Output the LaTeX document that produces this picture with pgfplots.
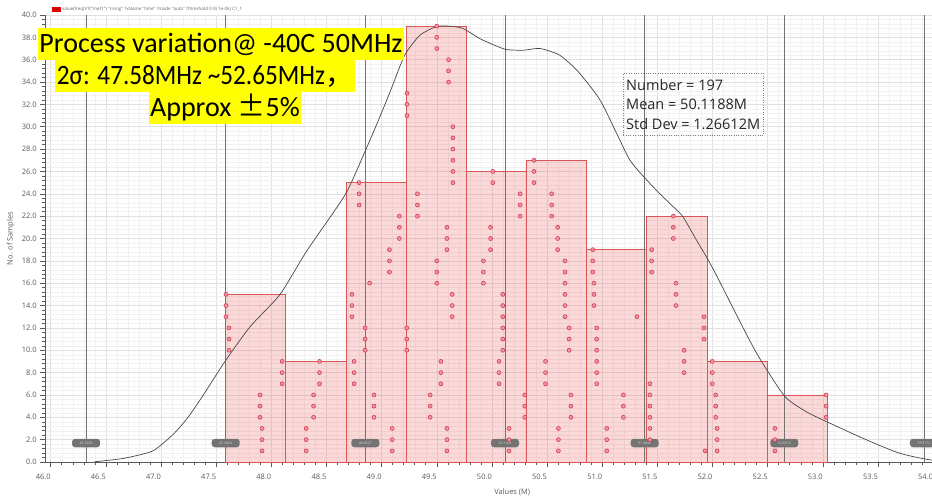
\documentclass[border=0pt]{standalone}
\usepackage{pgfplots}
\pgfplotsset{compat=1.18}
\usepackage{fontspec}
\setmainfont{Carlito}
\newfontfamily\cjk{Noto Sans CJK SC}
\newfontfamily\osans{Open Sans}
\definecolor{barfill}{RGB}{240,80,80}
\definecolor{baredge}{RGB}{218,85,85}
\definecolor{dotfill}{RGB}{240,150,160}
\definecolor{dotedge}{RGB}{214,60,80}
\definecolor{ticktext}{RGB}{90,90,90}
\definecolor{hl}{RGB}{255,255,0}
\begin{document}
\begin{tikzpicture}[x=1pt,y=1pt]
\useasboundingbox (0,0) rectangle (932,498);
\begin{axis}[
  at={(45.2pt,36pt)}, anchor=south west,
  scale only axis, width=887.9pt, height=447pt,
  xmin=45.95, xmax=54.0, ymin=0, ymax=40,
  axis x line*=bottom, axis y line*=left,
  axis line style={gray!70!black, line width=0.6pt},
  xtick distance=0.5, ytick distance=2,
  minor x tick num=4, minor y tick num=4,
  tick align=outside,
  major tick length=5pt, minor tick length=3pt,
  tick style={gray!70!black, line width=0.5pt},
  grid=both,
  major grid style={gray!24, line width=0.5pt},
  minor grid style={gray!11, line width=0.4pt},
  scaled ticks=false,
  tick label style={font=\osans\fontsize{7.5}{8}\selectfont, text=ticktext,
    /pgf/number format/fixed, /pgf/number format/fixed zerofill,
    /pgf/number format/precision=1, /pgf/number format/assume math mode=true},
  xticklabel style={xshift=-7.5pt, yshift=-4pt},
  xlabel={Values (M)},
  xlabel style={font=\osans\fontsize{7.5}{8}\selectfont, text=ticktext,
    at={(axis description cs:0.526,0)}, anchor=center, yshift=-30pt},
  ylabel={No. of Samples},
  ylabel style={font=\osans\fontsize{7.5}{8}\selectfont, text=ticktext,
    at={(axis description cs:-0.039,0.5)}, anchor=center},
  legend style={at={(axis description cs:0.006,1)}, anchor=south west,
    draw=none, fill=none, font=\osans\fontsize{4.5}{5}\selectfont,
    text=gray!80!black, inner sep=1pt},
]
\addlegendimage{legend image code/.code={\fill[red!85!black] (0pt,-2pt) rectangle (8pt,2.5pt);}}
\addlegendentry{value(freq(VT("/net1") "rising" ?xName "time" ?mode "auto" ?threshold 0.9) 1e-06) C1\_1}

% histogram
\addplot[forget plot, ybar interval, fill=barfill, fill opacity=0.22, draw=baredge, line width=0.8pt]
 coordinates {(47.586,15) (48.1315,9) (48.677,25) (49.2225,39) (49.768,26) (50.3135,27)
 (50.859,19) (51.4045,22) (51.95,9) (52.4955,6) (53.041,6)};

% sample dots
\addplot[forget plot, only marks, mark=*, mark size=2pt,
  mark options={fill=dotfill, draw=dotedge, line width=0.6pt}]
 coordinates {
 (47.916,1) (47.916,2) (47.916,3) (47.898,4) (47.898,5) (47.898,6)
 (48.098,7) (48.098,8) (48.098,9) (47.617,10) (47.617,11) (47.617,12)
 (47.589,13) (47.589,14) (47.589,15)
 (48.316,1) (48.316,2) (48.316,3) (48.383,4) (48.383,5) (48.383,6)
 (48.437,7) (48.437,8) (48.437,9)
 (49.096,1) (49.096,2) (49.096,3) (48.931,4) (48.931,5) (48.931,6)
 (48.751,7) (48.751,8) (48.751,9) (48.851,10) (48.851,11) (48.851,12)
 (48.731,13) (48.731,14) (48.731,15) (48.891,16)
 (49.071,17) (49.071,18) (49.071,19) (49.161,20) (49.161,21) (49.161,22)
 (48.796,23) (48.796,24) (48.796,25)
 (49.592,1) (49.592,2) (49.592,3) (49.44,4) (49.44,5) (49.44,6)
 (49.537,7) (49.537,8) (49.537,9) (49.228,10) (49.228,11) (49.228,12)
 (49.64,13) (49.64,14) (49.64,15) (49.50,16) (49.50,17) (49.50,18)
 (49.592,19) (49.592,20) (49.592,21) (49.325,22) (49.325,23) (49.325,24)
 (49.646,25) (49.646,26) (49.646,27) (49.646,28) (49.646,29) (49.646,30)
 (49.23,31) (49.23,32) (49.23,33) (49.607,34) (49.607,35) (49.607,36)
 (49.50,37) (49.50,38) (49.50,39)
 (50.156,1) (50.156,2) (50.156,3) (50.298,4) (50.298,5) (50.298,6)
 (50.065,7) (50.065,8) (50.065,9) (50.098,10) (50.098,11) (50.098,12)
 (50.098,13) (50.098,14) (50.098,15) (49.923,16) (49.923,17) (49.923,18)
 (49.988,19) (49.988,20) (49.988,21) (50.256,22) (50.256,23) (50.256,24)
 (50.008,25) (50.008,26)
 (50.603,1) (50.603,2) (50.603,3) (50.716,4) (50.716,5) (50.716,6)
 (50.486,7) (50.486,8) (50.486,9) (50.70,10) (50.70,11) (50.70,12)
 (50.663,13) (50.663,14) (50.663,15) (50.663,16) (50.663,17) (50.663,18)
 (50.596,19) (50.596,20) (50.596,21) (50.542,22) (50.542,23) (50.542,24)
 (50.381,25) (50.381,26) (50.381,27)
 (51.041,1) (51.041,2) (51.041,3) (51.192,4) (51.192,5) (51.192,6)
 (50.95,7) (50.95,8) (50.95,9) (50.95,10) (50.95,11) (50.95,12)
 (51.314,13) (50.925,14) (50.925,15) (50.925,16) (50.914,17) (50.914,18) (50.914,19)
 (51.933,1) (51.433,2) (51.433,3) (51.433,4) (51.433,5) (51.433,6) (51.433,7)
 (51.743,8) (51.743,9) (51.743,10) (51.923,11) (51.923,12) (51.923,13)
 (51.669,14) (51.669,15) (51.669,16) (51.448,17) (51.448,18) (51.448,19)
 (51.645,20) (51.645,21) (51.645,22)
 (52.042,1) (52.042,2) (52.042,3) (52.029,4) (52.029,5) (52.029,6)
 (51.998,7) (51.998,8) (51.998,9)
 (52.566,1) (52.566,2) (52.566,3) (53.03,4) (53.03,5) (53.03,6)
 };

% sigma lines
\addplot[forget plot, ycomb, black!55, line width=0.8pt, mark=none]
 coordinates {(46.3204,40) (47.5866,40) (48.8527,40) (50.1188,40) (51.3849,40) (52.6510,40) (53.9172,40)};

% density curve
\addplot[forget plot, smooth, tension=0.4, black!72, line width=0.7pt]
 coordinates {
 (46.397,0.02) (46.646,0.30) (46.840,0.72) (46.945,1.10) (47.111,2.48) (47.245,4.0)
 (47.384,6.0) (47.580,9.0) (47.807,12.1) (48.079,15.0) (48.322,18.9) (48.668,23.9)
 (48.850,27.8) (48.955,30.2) (49.076,33.1) (49.209,36.4) (49.349,38.2) (49.499,38.96)
 (49.618,39.0) (49.738,38.8) (49.888,37.9) (50.047,37.2) (50.137,36.9) (50.286,36.85)
 (50.436,37.0) (50.615,36.4) (50.785,34.9) (50.980,32.4) (51.131,29.4) (51.252,27.0)
 (51.388,25.4) (51.523,24.0) (51.643,22.85) (51.732,21.95) (51.852,19.9) (51.977,17.8)
 (52.098,15.5) (52.221,13.1) (52.341,10.8) (52.446,8.97) (52.657,5.85) (52.850,4.5)
 (53.036,3.6) (53.399,1.97) (53.698,0.78) (53.978,0.18) (54.2,0.05)};

% sigma markers
\tikzset{sigmark/.style={fill=black!55, rounded corners=3pt, minimum width=28pt,
  minimum height=8.5pt, inner sep=0pt, font=\osans\fontsize{3.5}{4}\selectfont, text=white!85!black}}
\node[sigmark] at (axis cs:46.3204,1.7) {46.3204};
\node[sigmark] at (axis cs:47.5866,1.7) {47.5866};
\node[sigmark] at (axis cs:48.8527,1.7) {48.8527};
\node[sigmark] at (axis cs:50.1188,1.7) {50.1188};
\node[sigmark] at (axis cs:51.3849,1.7) {51.3849};
\node[sigmark] at (axis cs:52.6510,1.7) {52.6510};
\node[sigmark] at (axis cs:53.9172,1.7) {53.9172};
\end{axis}

% statistics box
\node[draw=gray, dotted, align=left, inner xsep=3pt, inner ysep=6pt,
  font=\osans\fontsize{14.5}{19.5}\selectfont, text=black!85, anchor=north west]
  at (623,425) {Number = 197\\Mean = 50.1188M\\Std Dev = 1.26612M};

% highlighted annotation
\tikzset{hlbox/.style={fill=hl, inner xsep=1.5pt, inner ysep=0pt, minimum height=32pt,
  font=\fontsize{28}{30}\selectfont, anchor=center}}
\node[hlbox] at (221,454) {Process variation@ -40C 50MHz};
\node[hlbox] at (205,422) {\scalebox{0.9}[1]{2σ: 47.58MHz \textasciitilde52.65MHz}{\cjk ，}};
\node[hlbox] at (225,390) {Approx {\cjk ±}5\%};
\end{tikzpicture}
\end{document}
